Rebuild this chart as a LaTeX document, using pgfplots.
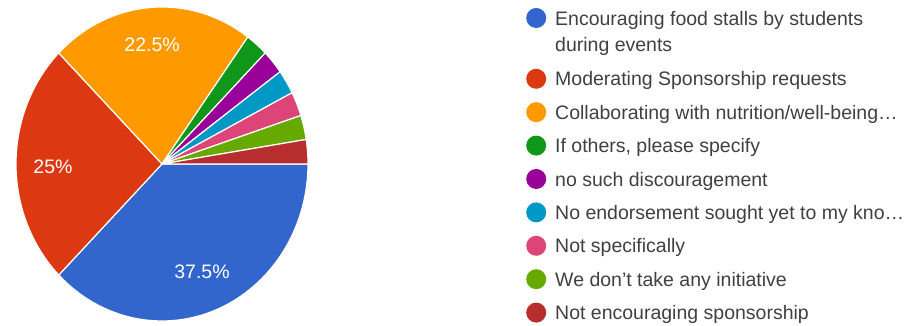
\documentclass[border=0pt]{standalone}
\usepackage{pgfplots}
\pgfplotsset{compat=1.18}
\usepackage{fontspec}
\setmainfont{Liberation Sans}
\definecolor{cA}{HTML}{3366CC}
\definecolor{cB}{HTML}{DC3912}
\definecolor{cC}{HTML}{FF9900}
\definecolor{cD}{HTML}{109618}
\definecolor{cE}{HTML}{990099}
\definecolor{cF}{HTML}{0099C6}
\definecolor{cG}{HTML}{DD4477}
\definecolor{cH}{HTML}{66AA00}
\definecolor{cI}{HTML}{B82E2E}
\definecolor{legtext}{HTML}{404040}
\begin{document}
\begin{tikzpicture}
\path[use as bounding box] (0,0) rectangle (911bp,326bp);
\begin{axis}[
  at={(16bp,5bp)}, anchor=south west,
  scale only axis, width=292bp, height=314bp,
  xmin=-1, xmax=1, ymin=-1, ymax=1,
  hide axis, clip=false,
  legend cell align=left,
  legend style={at={(axis description cs:1.7466,0.9975)}, anchor=north west,
    draw=none, fill=none, inner sep=0pt, row sep=13.4bp, column sep=9bp,
    font=\fontsize{19.5bp}{27bp}\selectfont\color{legtext},
    nodes={inner sep=0pt, outer sep=0pt},
    cells={inner sep=0pt, anchor=base west}},
  legend image code/.code={\fill[#1, draw=none] (0bp,7.2bp) circle (10bp);},
  every axis plot/.append style={draw=white, line width=1.2pt, samples=50},
]
% shares in percent: 37.5, 25, 22.5, 2.5, 2.5, 2.5, 2.5, 2.5, 2.5 (clockwise from 3 o'clock)
\addplot[fill=cA, domain=225:360] ({cos(x)},{sin(x)}) -- (axis cs:0,0) -- cycle;
\addlegendentry{Encouraging food stalls by students}
\addlegendimage{legend image code/.code={\path (0bp,-3.4bp) rectangle (0bp,9.4bp);}}
\addlegendentry{\smash{during events}}
\addplot[fill=cB, domain=135:225] ({cos(x)},{sin(x)}) -- (axis cs:0,0) -- cycle;
\addlegendentry{Moderating Sponsorship requests}
\addplot[fill=cC, domain=54:135] ({cos(x)},{sin(x)}) -- (axis cs:0,0) -- cycle;
\addlegendentry{Collaborating with nutrition/well-being…}
\addplot[fill=cD, domain=45:54] ({cos(x)},{sin(x)}) -- (axis cs:0,0) -- cycle;
\addlegendentry{If others, please specify}
\addplot[fill=cE, domain=36:45] ({cos(x)},{sin(x)}) -- (axis cs:0,0) -- cycle;
\addlegendentry{no such discouragement}
\addplot[fill=cF, domain=27:36] ({cos(x)},{sin(x)}) -- (axis cs:0,0) -- cycle;
\addlegendentry{No endorsement sought yet to my kno…}
\addplot[fill=cG, domain=18:27] ({cos(x)},{sin(x)}) -- (axis cs:0,0) -- cycle;
\addlegendentry{Not specifically}
\addplot[fill=cH, domain=9:18] ({cos(x)},{sin(x)}) -- (axis cs:0,0) -- cycle;
\addlegendentry{We don’t take any initiative}
\addplot[fill=cI, domain=0:9] ({cos(x)},{sin(x)}) -- (axis cs:0,0) -- cycle;
\addlegendentry{Not encouraging sponsorship}
\node[text=white, font=\fontsize{19.5bp}{24bp}\selectfont] at (axis cs:0.274,-0.688) {37.5\%};
\node[text=white, font=\fontsize{19.5bp}{24bp}\selectfont] at (axis cs:-0.747,-0.02) {25\%};
\node[text=white, font=\fontsize{19.5bp}{24bp}\selectfont] at (axis cs:-0.068,0.758) {22.5\%};
\end{axis}
\end{tikzpicture}
\end{document}
